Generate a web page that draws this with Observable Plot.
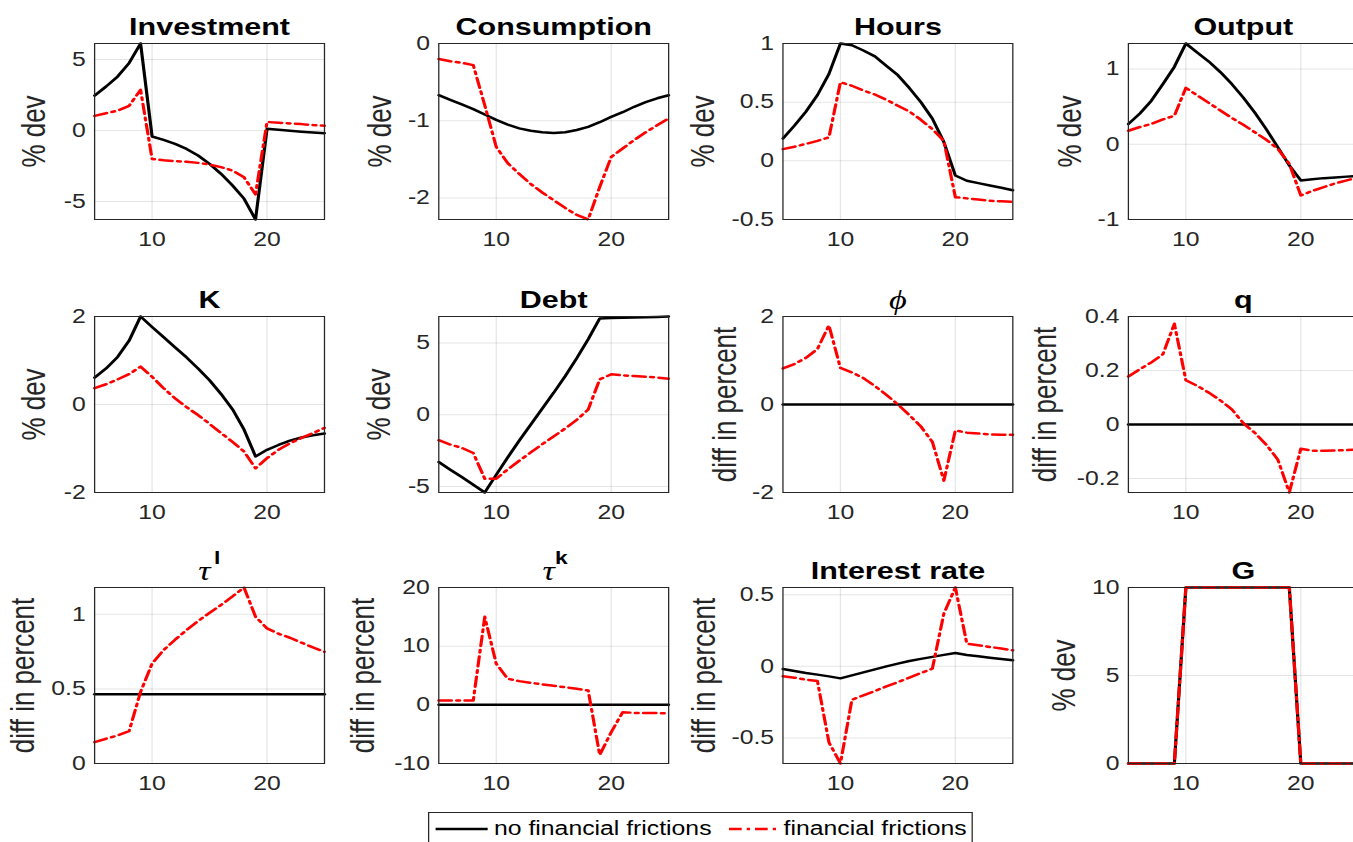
<!DOCTYPE html>
<html>
<head>
<meta charset="utf-8">
<script src="https://cdn.jsdelivr.net/npm/d3@7"></script>
<script src="https://cdn.jsdelivr.net/npm/@observablehq/plot@0.6"></script>
<style>
  html, body { margin: 0; padding: 0; background: #fff; overflow: hidden; }
  #stage { position: relative; width: 1353px; height: 842px; overflow: hidden; background: #fff; }
  #inner { position: absolute; left: 0; top: 0; width: 1100px; height: 842px; transform-origin: 0 0; }
  .panel { position: absolute; }
  .panel svg { overflow: visible; }
  #legend { position: absolute; background: #fff; border: 1px solid #262626; box-sizing: border-box;
            font-family: "Liberation Sans", Arial, Helvetica, sans-serif; color: #000; }
  #legend .item { position: absolute; white-space: nowrap; line-height: 1; }
  #legend svg { position: absolute; overflow: visible; }
</style>
</head>
<body>
<div id="stage"><div id="inner"></div></div>
<script>
// Impulse responses, periods 5..25
const periods = d3.range(5, 26);

const investmentNoFF = [2.46, 3.1, 3.8, 4.75, 6.13, -0.42, -0.66, -0.94, -1.3, -1.76, -2.35, -3.05, -3.87, -4.8, -6.27, 0.12, 0.05, -0.02, -0.08, -0.14, -0.19];
const investmentFF   = [1.03, 1.22, 1.4, 1.74, 2.86, -2.0, -2.1, -2.16, -2.2, -2.28, -2.4, -2.58, -2.82, -3.3, -4.5, 0.6, 0.55, 0.5, 0.45, 0.38, 0.33];

const consumptionNoFF = [-0.67, -0.73, -0.79, -0.85, -0.92, -0.99, -1.05, -1.1, -1.13, -1.15, -1.16, -1.15, -1.12, -1.08, -1.02, -0.95, -0.89, -0.82, -0.76, -0.71, -0.67];
const consumptionFF   = [-0.2, -0.23, -0.25, -0.28, -0.8, -1.34, -1.55, -1.69, -1.82, -1.93, -2.03, -2.13, -2.22, -2.28, -1.86, -1.47, -1.36, -1.25, -1.15, -1.06, -0.97];

const hoursNoFF = [0.19, 0.3, 0.42, 0.56, 0.74, 1.0, 0.985, 0.94, 0.89, 0.81, 0.73, 0.62, 0.5, 0.36, 0.16, -0.125, -0.17, -0.19, -0.21, -0.23, -0.25];
const hoursFF   = [0.1, 0.12, 0.145, 0.17, 0.2, 0.67, 0.64, 0.6, 0.565, 0.52, 0.47, 0.42, 0.35, 0.27, 0.17, -0.31, -0.32, -0.33, -0.34, -0.345, -0.35];

const outputNoFF = [0.27, 0.41, 0.58, 0.8, 1.03, 1.34, 1.22, 1.1, 0.96, 0.8, 0.62, 0.42, 0.2, -0.04, -0.28, -0.48, -0.465, -0.45, -0.44, -0.43, -0.42];
const outputFF   = [0.18, 0.23, 0.27, 0.33, 0.38, 0.75, 0.65, 0.55, 0.45, 0.35, 0.26, 0.16, 0.06, -0.06, -0.26, -0.68, -0.62, -0.57, -0.52, -0.48, -0.44];

const capitalNoFF = [0.61, 0.82, 1.08, 1.45, 2.0, 1.76, 1.53, 1.3, 1.07, 0.82, 0.55, 0.24, -0.11, -0.57, -1.18, -1.03, -0.92, -0.82, -0.75, -0.7, -0.66];
const capitalFF   = [0.37, 0.46, 0.57, 0.69, 0.86, 0.63, 0.37, 0.14, -0.06, -0.24, -0.44, -0.65, -0.85, -1.07, -1.45, -1.22, -1.03, -0.88, -0.76, -0.65, -0.53];

const debtNoFF = [-3.29, -3.82, -4.33, -4.87, -5.41, -4.17, -2.96, -1.8, -0.68, 0.44, 1.54, 2.7, 3.94, 5.27, 6.71, 6.74, 6.76, 6.78, 6.8, 6.82, 6.85];
const debtFF   = [-1.77, -2.07, -2.3, -2.66, -4.45, -4.45, -3.8, -3.2, -2.62, -2.05, -1.5, -0.95, -0.35, 0.37, 2.47, 2.82, 2.75, 2.7, 2.65, 2.6, 2.52];

const phiNoFF = [0, 0, 0, 0, 0, 0, 0, 0, 0, 0, 0, 0, 0, 0, 0, 0, 0, 0, 0, 0, 0];
const phiFF   = [0.82, 0.92, 1.06, 1.26, 1.8, 0.83, 0.73, 0.6, 0.42, 0.22, 0.0, -0.24, -0.5, -0.85, -1.73, -0.59, -0.64, -0.66, -0.68, -0.69, -0.69];

const qNoFF = [0, 0, 0, 0, 0, 0, 0, 0, 0, 0, 0, 0, 0, 0, 0, 0, 0, 0, 0, 0, 0];
const qFF   = [0.178, 0.205, 0.23, 0.26, 0.373, 0.164, 0.143, 0.118, 0.089, 0.056, 0.005, -0.031, -0.075, -0.13, -0.252, -0.09, -0.097, -0.097, -0.096, -0.095, -0.093];

const tauLNoFF = [0.464, 0.464, 0.464, 0.464, 0.464, 0.464, 0.464, 0.464, 0.464, 0.464, 0.464, 0.464, 0.464, 0.464, 0.464, 0.464, 0.464, 0.464, 0.464, 0.464, 0.464];
const tauLFF   = [0.143, 0.166, 0.188, 0.217, 0.48, 0.67, 0.76, 0.83, 0.895, 0.955, 1.01, 1.063, 1.12, 1.18, 0.984, 0.906, 0.87, 0.843, 0.81, 0.778, 0.749];

const tauKNoFF = [0, 0, 0, 0, 0, 0, 0, 0, 0, 0, 0, 0, 0, 0, 0, 0, 0, 0, 0, 0, 0];
const tauKFF   = [0.74, 0.74, 0.74, 0.74, 15.0, 7.0, 4.44, 4.04, 3.76, 3.47, 3.24, 3.0, 2.73, 2.45, -8.54, -4.67, -1.25, -1.37, -1.4, -1.41, -1.42];

const rateNoFF = [-0.019, -0.033, -0.047, -0.058, -0.07, -0.084, -0.063, -0.042, -0.021, 0.0, 0.019, 0.037, 0.052, 0.066, 0.08, 0.093, 0.079, 0.07, 0.06, 0.051, 0.042];
const rateFF   = [-0.07, -0.079, -0.093, -0.103, -0.53, -0.678, -0.233, -0.203, -0.172, -0.14, -0.11, -0.079, -0.047, -0.016, 0.368, 0.55, 0.158, 0.147, 0.135, 0.124, 0.112];

const govNoFF = [0, 0, 0, 0, 0, 10, 10, 10, 10, 10, 10, 10, 10, 10, 10, 0, 0, 0, 0, 0, 0];
const govFF   = [0, 0, 0, 0, 0, 10, 10, 10, 10, 10, 10, 10, 10, 10, 10, 0, 0, 0, 0, 0, 0];

const xTicks = [10, 20];
const seriesNames = ["no financial frictions", "financial frictions"];

const panels = [
  {title: "Investment",  yLabel: "% dev", base: investmentNoFF, ff: investmentFF, domain: [-6.27, 6.13], ticks: [-5, 0, 5], labelOffset: 47},
  {title: "Consumption", yLabel: "% dev", base: consumptionNoFF, ff: consumptionFF, domain: [-2.28, 0], ticks: [-2, -1, 0], labelOffset: 46},
  {title: "Hours",       yLabel: "% dev", base: hoursNoFF, ff: hoursFF, domain: [-0.5, 1], ticks: [-0.5, 0, 0.5, 1], labelOffset: 63},
  {title: "Output",      yLabel: "% dev", base: outputNoFF, ff: outputFF, domain: [-1, 1.34], ticks: [-1, 0, 1], labelOffset: 46},
  {title: "K",           yLabel: "% dev", base: capitalNoFF, ff: capitalFF, domain: [-2, 2], ticks: [-2, 0, 2], labelOffset: 47},
  {title: "Debt",        yLabel: "% dev", base: debtNoFF, ff: debtFF, domain: [-5.41, 6.85], ticks: [-5, 0, 5], labelOffset: 47},
  {greek: "ϕ",           yLabel: "diff in percent", base: phiNoFF, ff: phiFF, domain: [-2, 2], ticks: [-2, 0, 2], labelOffset: 45},
  {title: "q",           yLabel: "diff in percent", base: qNoFF, ff: qFF, domain: [-0.252, 0.4], ticks: [-0.2, 0, 0.2, 0.4], labelOffset: 65},
  {greek: "τ", sup: "l", yLabel: "diff in percent", base: tauLNoFF, ff: tauLFF, domain: [0, 1.18], ticks: [0, 0.5, 1], labelOffset: 56},
  {greek: "τ", sup: "k", yLabel: "diff in percent", base: tauKNoFF, ff: tauKFF, domain: [-10, 20], ticks: [-10, 0, 10, 20], labelOffset: 59},
  {title: "Interest rate", yLabel: "diff in percent", base: rateNoFF, ff: rateFF, domain: [-0.678, 0.55], ticks: [-0.5, 0, 0.5], labelOffset: 62},
  {title: "G",           yLabel: "% dev", base: govNoFF, ff: govFF, domain: [0, 10], ticks: [0, 5, 10], labelOffset: 50}
];

// Layout (pre-stretch coordinates); the figure is widened horizontally by STRETCH
const STRETCH = 1.27;
const FW = 181, FH = 176;
const colLeft = [73.6, 344.6, 616.0, 888.2];
const rowTop = [43, 316, 587.3];
const M = {left: 110, right: 14, top: 50, bottom: 46};
const SANS = "'Liberation Sans', Arial, Helvetica, sans-serif";
const SERIF = "'Liberation Serif', 'DejaVu Serif', serif";
const INK = "#262626";

const inner = document.getElementById("inner");
inner.style.transform = `scaleX(${STRETCH})`;

panels.forEach((p, k) => {
  const row = Math.floor(k / 4), col = k % 4;
  const data = periods.map((t, i) => ({t, base: p.base[i], ff: p.ff[i]}));

  const titleMarks = [];
  if (p.title) {
    titleMarks.push(Plot.text([p.title], {frameAnchor: "top", dy: -9, lineAnchor: "bottom",
      fontWeight: "bold", fontSize: 24, fill: "#000"}));
  } else {
    titleMarks.push(Plot.text([p.greek], {frameAnchor: "top", dy: -8, dx: p.sup ? -4 : 0, lineAnchor: "bottom",
      fontStyle: "italic", fontSize: 27, fontFamily: SERIF, fill: "#000"}));
    if (p.sup) {
      titleMarks.push(Plot.text([p.sup], {frameAnchor: "top", dy: -24, dx: 6, lineAnchor: "bottom",
        fontWeight: "bold", fontSize: 18, fill: "#000"}));
    }
  }

  const chart = Plot.plot({
    width: M.left + FW + M.right,
    height: M.top + FH + M.bottom,
    marginLeft: M.left, marginRight: M.right, marginTop: M.top, marginBottom: M.bottom,
    style: {fontFamily: SANS, background: "transparent", overflow: "visible"},
    x: {domain: [5, 25]},
    y: {domain: p.domain},
    marks: [
      Plot.gridX({ticks: xTicks, stroke: "#000", strokeOpacity: 0.1, strokeWidth: 1}),
      Plot.gridY({ticks: p.ticks, stroke: "#000", strokeOpacity: 0.1, strokeWidth: 1}),
      Plot.axisX({ticks: xTicks, tickSize: 0, tickPadding: 13, fontSize: 19.5, color: INK, label: null}),
      Plot.axisY({ticks: p.ticks, tickSize: 0, tickPadding: 7, fontSize: 19.5, color: INK, label: null,
        tickFormat: d => String(d)}),
      Plot.line(data, {x: "t", y: "base", stroke: "#000", strokeWidth: 2.5}),
      Plot.line(data, {x: "t", y: "ff", stroke: "#ff0000", strokeWidth: 2.5, strokeDasharray: "10,4,2.5,4"}),
      Plot.frame({stroke: INK, strokeWidth: 1}),
      ...titleMarks,
      Plot.text([p.yLabel], {frameAnchor: "left", dx: -p.labelOffset, rotate: -90, textAnchor: "middle",
        lineAnchor: "middle", fontSize: 26, fill: INK})
    ]
  });

  const holder = document.createElement("div");
  holder.className = "panel";
  holder.style.left = (colLeft[col] - M.left) + "px";
  holder.style.top = (rowTop[row] - M.top) + "px";
  holder.appendChild(chart);
  inner.appendChild(holder);
});

// Legend box below the panels
const legend = document.createElement("div");
legend.id = "legend";
legend.style.left = "337px";
legend.style.top = "812px";
legend.style.width = "429px";
legend.style.height = "40px";
inner.appendChild(legend);

const legendItems = [
  {name: seriesNames[0], x: 5, textX: 51, color: "#000", dash: null},
  {name: seriesNames[1], x: 236, textX: 279, color: "#ff0000", dash: "10,4,2.5,4"}
];
legendItems.forEach(it => {
  const s = d3.create("svg").attr("width", 41).attr("height", 4)
    .style("left", it.x + "px").style("top", "14px");
  s.append("line").attr("x1", 0).attr("x2", 41).attr("y1", 2).attr("y2", 2)
    .attr("stroke", it.color).attr("stroke-width", 2.5)
    .attr("stroke-dasharray", it.dash);
  legend.appendChild(s.node());
  const t = document.createElement("div");
  t.className = "item";
  t.textContent = it.name;
  t.style.left = it.textX + "px";
  t.style.top = "6px";
  t.style.fontSize = "19.5px";
  legend.appendChild(t);
});
</script>
</body>
</html>
